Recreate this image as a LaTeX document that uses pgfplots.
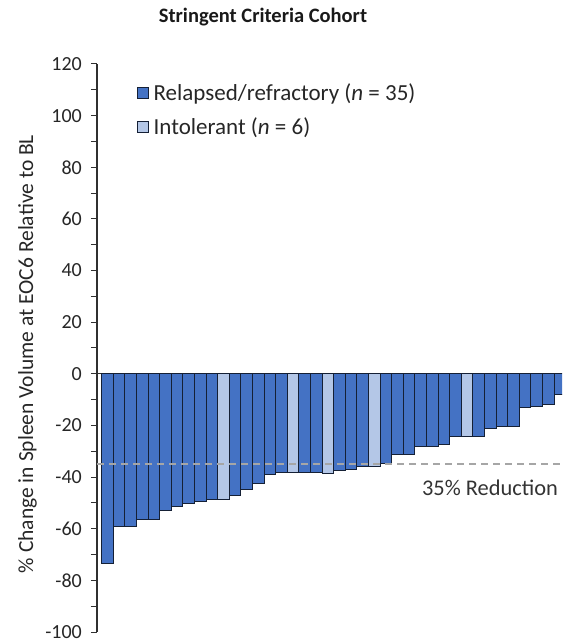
\documentclass[border=0pt]{standalone}
\usepackage{pgfplots}
\pgfplotsset{compat=1.18}
\usepackage{fontspec}
\setmainfont{Carlito}

\definecolor{rrblue}{HTML}{4472C4}
\definecolor{intblue}{HTML}{B4C7E7}
\definecolor{baredge}{HTML}{152035}
\definecolor{refgray}{HTML}{A6A6A6}
\definecolor{axisgray}{HTML}{303030}

\begin{document}
\begin{tikzpicture}
\begin{axis}[
  scale only axis,
  width=465pt, height=568pt,
  xmin=0.1, xmax=40.18,
  ymin=-100, ymax=120,
  axis y line*=left,
  axis x line*=middle,
  x axis line style={axisgray, line width=1pt},
  y axis line style={axisgray, line width=1.3pt},
  xtick=\empty,
  ytick={-100,-80,...,120},
  minor ytick={-90,-70,...,110},
  tick align=outside,
  major tick length=6pt, minor tick length=6pt,
  every tick/.style={axisgray, line width=1pt},
  /pgf/number format/assume math mode=true,
  yticklabel style={font=\fontsize{20}{24}\selectfont, text=black!85, inner sep=0pt, anchor=east, xshift=-9pt},
  ylabel={\% Change in Spleen Volume at EOC6 Relative to BL},
  ylabel style={font=\fontsize{21.5}{26}\selectfont, text=black!85, at={(axis description cs:-0.1495,0.4894)}, anchor=center},
  title={\textbf{Stringent Criteria Cohort}},
  title style={font=\fontsize{20.5}{24}\selectfont, text=black!90, at={(axis description cs:0.357,1.0722)}, anchor=center},
  ybar, bar width=1,
  legend style={draw=none, fill=none, at={(axis description cs:0.085,0.969)}, anchor=north west,
    font=\fontsize{23}{27}\selectfont, text=black!85, row sep=12pt, inner sep=0pt},
  legend cell align=left,
  legend image code/.code={\draw[#1] (0pt,-5.5pt) rectangle (11pt,5.5pt);},
]
% relapsed/refractory patients
\addplot[bar shift=0pt, fill=rrblue, draw=baredge, line width=0.9pt] coordinates {
  (1,-73.6) (2,-59.2) (3,-59.0) (4,-56.6) (5,-56.6) (6,-53.1) (7,-51.2) (8,-50.4)
  (9,-49.5) (10,-48.6) (12,-47.3) (13,-44.7) (14,-42.4) (15,-39.1) (16,-38.2)
  (18,-38.2) (19,-38.2) (21,-37.6) (22,-37.2) (23,-35.7) (25,-34.6) (26,-31.4)
  (27,-31.4) (28,-28.3) (29,-28.3) (30,-27.5) (31,-24.2) (33,-24.2) (34,-21.1)
  (35,-20.4) (36,-20.2) (37,-13.0) (38,-12.8) (39,-12.0) (40,-8.1)
};
\addlegendentry{\hspace{3pt}Relapsed/refractory (\textit{n} = 35)}
% intolerant patients
\addplot[bar shift=0pt, fill=intblue, draw=baredge, line width=0.9pt] coordinates {
  (11,-48.6) (17,-38.2) (20,-38.5) (24,-35.7) (32,-24.2)
};
\addlegendentry{\hspace{3pt}Intolerant (\textit{n} = 6)}
% 35% reduction threshold
\addplot[sharp plot, refgray, line width=1.5pt, dash pattern=on 7pt off 5pt, forget plot] coordinates {(0.1,-35) (40.18,-35)};
\node[font=\fontsize{22.4}{26}\selectfont, text=black!80] at (axis cs:33.97,-44.3) {35\% Reduction};
\end{axis}
\pgfresetboundingbox
\path (-97pt,-10pt) rectangle (465pt,632pt);
\end{tikzpicture}
\end{document}
